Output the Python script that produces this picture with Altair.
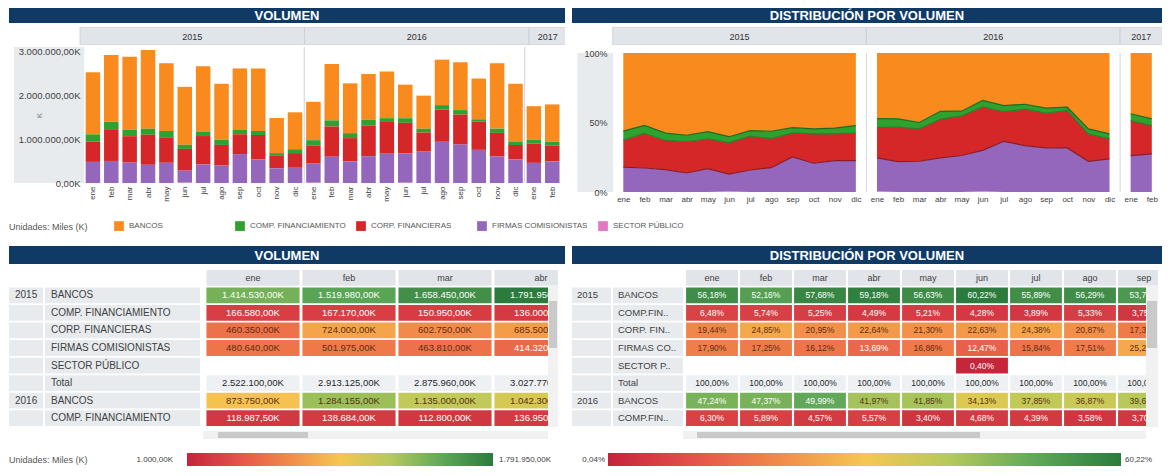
import altair as alt
import pandas as pd

# ------------------------------------------------------------------ data
months = ["ene", "feb", "mar", "abr", "may", "jun", "jul", "ago", "sep", "oct", "nov", "dic"]
year_list = ["2015", "2016", "2017"]
months_per_year = [12, 12, 2]
period_month = months + months + ["ene", "feb"]
period_year = ["2015"] * 12 + ["2016"] * 12 + ["2017"] * 2

categories = ["BANCOS", "COMP. FINANCIAMIENTO", "CORP. FINANCIERAS", "FIRMAS COMISIONISTAS", "SECTOR PÚBLICO"]
short_names = ["BANCOS", "COMP.FIN..", "CORP. FIN..", "FIRMAS CO..", "SECTOR P.."]
cat_colors = ["#F98A1D", "#2FA12F", "#D62728", "#9467BD", "#E377C2"]
edge_colors = ["#F98A1D", "#1D6B1D", "#2A7F2A", "#8A1C24", "#E377C2"]
stack_rank = [4, 3, 2, 1, 0]

# volumen (miles, K) por mes: 2015 ene..dic, 2016 ene..dic, 2017 ene..feb
vol_bancos = [1414530, 1519980, 1658450, 1791950, 1546000, 1319910, 1486670, 1272150, 1401570, 1425060, 799200, 840420,
              873750, 1284155, 1135000, 1042300, 1062990, 764510, 753220, 1036050, 1089000, 928200, 1490580, 1315320,
              764750, 848460]
vol_comp = [166580, 167170, 150950, 136000, 142230, 93730, 103470, 120460, 97880, 93960, 62160, 88550,
            118987.5, 138684, 112800, 136950, 86360, 104830, 87360, 100600, 101750, 54740, 98280, 81360,
            85750, 85920]
vol_corp = [460350, 724000, 602750, 685500, 581490, 495600, 648510, 471660, 451530, 550710, 284160, 317170,
            405060, 690000, 528900, 692750, 723900, 698880, 423870, 734820, 684750, 642600, 537810, 325440,
            441000, 365160]
vol_firmas = [480640, 501975, 463810, 414320, 460280, 272000, 421350, 395730, 659030, 540270, 334480, 363860,
              445140, 597000, 493300, 611000, 666750, 665060, 725550, 938540, 874500, 754460, 603330, 537880,
              458500, 490460]
vol_sector = [0, 0, 0, 0, 0, 8760, 0, 0, 0, 0, 0, 0,
              6660, 1000, 0, 0, 0, 6720, 0, 0, 0, 0, 0, 0,
              0, 0]

# distribución (%) por mes
share_bancos = [56.18, 52.16, 57.68, 59.18, 56.63, 60.22, 55.89, 56.29, 53.70, 54.60, 54.00, 52.20,
                47.24, 47.37, 49.99, 41.97, 41.85, 34.13, 37.85, 36.87, 39.60, 39.00, 54.60, 58.20,
                43.70, 47.40]
share_comp = [6.48, 5.74, 5.25, 4.49, 5.21, 4.28, 3.89, 5.33, 3.75, 3.60, 4.20, 5.50,
              6.30, 5.89, 4.57, 5.57, 3.40, 4.68, 4.39, 3.58, 3.70, 2.30, 3.60, 3.60,
              4.90, 4.80]
share_corp = [19.44, 24.85, 20.95, 22.64, 21.30, 22.63, 24.38, 20.87, 17.30, 21.10, 19.20, 19.70,
              21.90, 24.86, 23.30, 27.90, 28.50, 31.20, 21.30, 26.15, 24.90, 27.00, 19.70, 14.40,
              25.20, 20.40]
share_firmas = [17.90, 17.25, 16.12, 13.69, 16.86, 12.47, 15.84, 17.51, 25.25, 20.70, 22.60, 22.60,
                24.20, 21.84, 22.14, 24.56, 26.25, 29.69, 36.46, 33.40, 31.80, 31.70, 22.10, 23.80,
                26.20, 27.40]
share_sector = [0, 0, 0, 0, 0, 0.40, 0, 0, 0, 0, 0, 0,
                0.36, 0.04, 0, 0, 0, 0.30, 0, 0, 0, 0, 0, 0,
                0, 0]

heat_colors = ["#C4243B", "#E5524C", "#F28A4A", "#F5C752", "#B5C95C", "#5FA859", "#2B7B3D"]

# ------------------------------------------------------------------ style
FONT = "Liberation Sans"
NAVY = "#0F3A66"
AXIS_BG = "#E8EBEE"
HDR_GRAY = "#E1E4E8"
TXT = "#404040"

vol_series = dict(zip(categories, [vol_bancos, vol_comp, vol_corp, vol_firmas, vol_sector]))
share_series = dict(zip(categories, [share_bancos, share_comp, share_corp, share_firmas, share_sector]))
rank_of = dict(zip(categories, stack_rank))
year_start = {}
_s = 0
for _y, _n in zip(year_list, months_per_year):
    year_start[_y] = _s
    _s += _n
month_expr = "[" + ",".join("'%s'" % m for m in period_month) + "][floor(datum.value)]"


def one():
    return pd.DataFrame({"k": [0]})


def header(title, w, h):
    bg = alt.Chart(one()).mark_rect(color=NAVY).encode(
        x=alt.value(0), x2=alt.value(w), y=alt.value(0), y2=alt.value(h))
    tx = alt.Chart(pd.DataFrame({"t": [title]})).mark_text(
        color="white", fontWeight="bold", fontSize=13, baseline="middle", align="center").encode(
        x=alt.value(w / 2), y=alt.value(h / 2 + 0.5), text="t:N")
    return alt.layer(bg, tx).properties(width=w, height=h)


def vstack(charts, gaps):
    out = charts[0]
    for c, g in zip(charts[1:], gaps):
        out = alt.vconcat(out, c, spacing=g).resolve_scale(color="independent")
    return out


yr_rows = []
for y, n in zip(year_list, months_per_year):
    s = year_start[y]
    yr_rows.append({"year": y, "s": s, "e": s + n, "mid": s + n / 2.0,
                    "a0": s - 0.5, "a1": s + n - 0.5, "amid": s + (n - 1) / 2.0})
yr_df = pd.DataFrame(yr_rows)

# ------------------------------------------------------------------ bar chart (VOLUMEN)
BAR_W, BAR_H = 556, 136
bar_step = 18.71
bar_dom = [-(80 - 9) / bar_step, (565 - 80) / bar_step]
bx = alt.Scale(domain=bar_dom, nice=False, zero=False)
bar_xaxis = alt.Axis(values=[i + 0.5 for i in range(26)], labelExpr=month_expr, labelAngle=270,
                     labelFontSize=8, labelColor=TXT, domain=False, ticks=False, grid=False,
                     labelPadding=3, labelOverlap=False, title=None)

bar_rows = []
for i in range(26):
    for c in categories:
        bar_rows.append({"xc": i + 0.5, "cat": c, "v": vol_series[c][i], "rank": rank_of[c]})
bar_df = pd.DataFrame(bar_rows)

bar_bg = alt.Chart(pd.DataFrame({"a": [bar_dom[0]], "b": [0.03]})).mark_rect(color=AXIS_BG).encode(
    x=alt.X("a:Q", scale=bx, axis=bar_xaxis), x2="b:Q", y=alt.value(0), y2=alt.value(BAR_H))
bar_rules = alt.Chart(yr_df[yr_df["s"] > 0]).mark_rule(color="#CDD1D6", strokeWidth=1).encode(
    x=alt.X("s:Q", scale=bx, axis=bar_xaxis))
bars = alt.Chart(bar_df).mark_bar(width=14.5).encode(
    x=alt.X("xc:Q", scale=bx, axis=bar_xaxis),
    y=alt.Y("v:Q", stack="zero", scale=alt.Scale(domain=[0, 3098000], nice=False),
            axis=alt.Axis(values=[0, 1000000, 2000000, 3000000], format=",.2f", labelExpr="datum.label + 'K'",
                          offset=-73, domain=False, ticks=False, grid=False, labelFontSize=9.5,
                          labelColor=TXT, labelPadding=2, title="K", titleX=-39, titleFontSize=8,
                          titleFontWeight="normal", titleColor="#777777", zindex=2)),
    color=alt.Color("cat:N", scale=alt.Scale(domain=categories, range=cat_colors), legend=None),
    order=alt.Order("rank:Q", sort="ascending"),
)
bar_chart = alt.layer(bar_bg, bar_rules, bars).properties(width=BAR_W, height=BAR_H)

bar_year = alt.layer(
    alt.Chart(yr_df).mark_rect(color=HDR_GRAY, stroke="#C9CDD2", strokeWidth=0.8, clip=True).encode(
        x=alt.X("s:Q", scale=bx, axis=None), x2="e:Q", y=alt.value(0), y2=alt.value(18)),
    alt.Chart(yr_df).mark_text(fontSize=9, color="#333333").encode(
        x=alt.X("mid:Q", scale=bx, axis=None), y=alt.value(9.5), text="year:N"),
).properties(width=BAR_W, height=18)

# ------------------------------------------------------------------ area chart (DISTRIBUCIÓN)
AREA_W, AREA_H = 590, 139
area_step = 21.14
area_dom = [(572 - 623.3) / area_step, (1162 - 623.3) / area_step]
ax = alt.Scale(domain=area_dom, nice=False, zero=False)
area_xaxis = alt.Axis(values=list(range(26)), labelExpr=month_expr, labelAngle=0, labelFontSize=8,
                      labelColor=TXT, domain=False, ticks=False, grid=False, labelPadding=3,
                      labelOverlap=False, title=None)
ay = alt.Scale(domain=[0, 1], nice=False)
area_yaxis = alt.Axis(values=[0, 0.5, 1], format=".0%", offset=-37, domain=False, ticks=False, grid=False,
                      labelFontSize=9, labelColor=TXT, labelPadding=2, title=None, zindex=2)

area_rows = []
for i in range(26):
    for c in categories:
        area_rows.append({"idx": i, "year": period_year[i], "cat": c, "s": share_series[c][i],
                          "rank": rank_of[c]})
area_df = pd.DataFrame(area_rows)

stacked = alt.Chart(area_df).transform_stack(
    stack="s", groupby=["idx"], as_=["y0", "y1"], offset="normalize",
    sort=[alt.SortField("rank", order="ascending")])

area_bg = alt.Chart(pd.DataFrame({"a": [area_dom[0] + 0.25], "b": [-0.487]})).mark_rect(color=AXIS_BG).encode(
    x=alt.X("a:Q", scale=ax, axis=area_xaxis), x2="b:Q", y=alt.value(0), y2=alt.value(AREA_H))
area_rules = alt.Chart(yr_df[yr_df["s"] > 0]).mark_rule(color="#D3D7DC", strokeWidth=1).encode(
    x=alt.X("a0:Q", scale=ax, axis=area_xaxis))
areas = stacked.mark_area().encode(
    x=alt.X("idx:Q", scale=ax, axis=area_xaxis),
    y=alt.Y("y0:Q", scale=ay, axis=area_yaxis), y2="y1:Q",
    color=alt.Color("cat:N", scale=alt.Scale(domain=categories, range=cat_colors), legend=None),
    detail="year:N")
edges = stacked.transform_filter("datum.rank >= 1 && datum.rank <= 3").mark_line(strokeWidth=1.2).encode(
    x=alt.X("idx:Q", scale=ax, axis=area_xaxis),
    y=alt.Y("y1:Q", scale=ay, axis=area_yaxis),
    stroke=alt.Stroke("cat:N", scale=alt.Scale(domain=categories, range=edge_colors), legend=None),
    detail="year:N")
area_chart = alt.layer(area_bg, area_rules, areas, edges).properties(width=AREA_W, height=AREA_H)

area_year = alt.layer(
    alt.Chart(yr_df).mark_rect(color=HDR_GRAY, stroke="#C9CDD2", strokeWidth=0.8, clip=True).encode(
        x=alt.X("a0:Q", scale=ax, axis=None), x2="a1:Q", y=alt.value(0), y2=alt.value(18)),
    alt.Chart(yr_df).mark_text(fontSize=9, color="#333333").encode(
        x=alt.X("amid:Q", scale=ax, axis=None), y=alt.value(9.5), text="year:N"),
).properties(width=AREA_W, height=18)

# ------------------------------------------------------------------ category legend row
legend_row = alt.layer(
    alt.Chart(pd.DataFrame({"cat": categories})).mark_square(opacity=0, size=1).encode(
        color=alt.Color("cat:N", scale=alt.Scale(domain=categories, range=cat_colors),
                        legend=alt.Legend(orient="none", legendX=105, legendY=0, direction="horizontal",
                                          columns=5, title=None, symbolType="square", symbolSize=95,
                                          symbolStrokeWidth=0, symbolOpacity=1, labelFontSize=8,
                                          labelColor="#555555", columnPadding=10, gridAlign="all",
                                          padding=0, labelOffset=5, labelLimit=200))),
    alt.Chart(pd.DataFrame({"t": ["Unidades: Miles (K)"]})).mark_text(
        align="left", baseline="middle", fontSize=9, color="#555555").encode(
        x=alt.value(0), y=alt.value(6), text="t:N"),
).properties(width=1153, height=12)

# ------------------------------------------------------------------ tables
row_years = ["2015"] * 6 + ["2016"] * 2
row_cats = categories + ["Total"] + categories[:2]
row_keys = ["hdr"] + ["%s|%s" % (y, c) for y, c in zip(row_years, row_cats)]


def fmt_k(v):
    s = "{:,.2f}".format(v)
    return s.replace(",", "#").replace(".", ",").replace("#", ".") + "K"


def fmt_p(v):
    return "{:.2f}".format(v).replace(".", ",") + "%"


def table_chart(series, fmt, w, h, left_px, step_px, half, yr_bg, cat_bg, yr_tx, cat_tx, names,
                lab_fs, cell_fs, sb):
    vals = [v for c in categories for v in series[c] if v > 0]
    lo, hi = min(vals), max(vals)
    stops = [lo + k * (hi - lo) / 6.0 for k in range(7)]
    dom = [-0.5 - left_px / step_px, -0.5 + (w - left_px) / step_px]
    last_col = int(dom[1] + 0.5)
    xs = alt.Scale(domain=dom, nice=False, zero=False)
    ys = alt.Scale(domain=row_keys, paddingInner=0.1, paddingOuter=0.05)
    Y = alt.Y("row:N", scale=ys, axis=None)

    def X(f):
        return alt.X(f, scale=xs, axis=None)

    hdr_df = pd.DataFrame([{"row": "hdr", "col": m, "x0": m - half, "x1": m + half, "mon": months[m]}
                           for m in range(last_col + 1)])
    name_map = dict(zip(categories, names))
    cells, tots, labs = [], [], []
    prev = None
    for key, y, c in zip(row_keys[1:], row_years, row_cats):
        labs.append({"row": key, "ytxt": y if y != prev else "", "ctxt": name_map.get(c, c)})
        prev = y
        s0 = year_start[y]
        for m in range(min(months_per_year[year_list.index(y)], last_col + 1)):
            i = s0 + m
            if c == "Total":
                tot = sum(series[cc][i] for cc in categories)
                tots.append({"row": key, "col": m, "x0": m - half, "x1": m + half, "txt": fmt(tot)})
            else:
                v = series[c][i]
                if v <= 0:
                    continue
                t = (v - lo) / (hi - lo)
                tc = "#FFFFFF" if (t < 0.25 or t > 0.75) else "#5C2E14"
                cells.append({"row": key, "col": m, "x0": m - half, "x1": m + half, "v": v,
                              "txt": fmt(v), "tc": tc})
    cells_df, tots_df = pd.DataFrame(cells), pd.DataFrame(tots)
    labs_df = pd.DataFrame(labs)
    yr_df_t = labs_df[labs_df["ytxt"] != ""]

    layers = [
        alt.Chart(labs_df).mark_rect(color=AXIS_BG).encode(x=alt.value(yr_bg[0]), x2=alt.value(yr_bg[1]), y=Y),
        alt.Chart(labs_df).mark_rect(color=AXIS_BG).encode(x=alt.value(cat_bg[0]), x2=alt.value(cat_bg[1]), y=Y),
        alt.Chart(hdr_df).mark_rect(color=HDR_GRAY, clip=True).encode(x=X("x0:Q"), x2="x1:Q", y=Y),
        alt.Chart(hdr_df).mark_text(clip=True, fontSize=9, color=TXT).encode(x=X("col:Q"), y=Y, text="mon:N"),
        alt.Chart(cells_df).mark_rect(clip=True).encode(
            x=X("x0:Q"), x2="x1:Q", y=Y,
            color=alt.Color("v:Q", scale=alt.Scale(domain=stops, range=heat_colors), legend=None)),
        alt.Chart(tots_df).mark_rect(color="#EEF1F4", clip=True).encode(x=X("x0:Q"), x2="x1:Q", y=Y),
        alt.Chart(cells_df).mark_text(clip=True, fontSize=cell_fs).encode(
            x=X("col:Q"), y=Y, text="txt:N", color=alt.Color("tc:N", scale=None)),
        alt.Chart(tots_df).mark_text(clip=True, fontSize=cell_fs, color="#262626").encode(
            x=X("col:Q"), y=Y, text="txt:N"),
        alt.Chart(yr_df_t).mark_text(align="left", fontSize=lab_fs, color=TXT).encode(
            x=alt.value(yr_tx), y=Y, text="ytxt:N"),
        alt.Chart(labs_df).mark_text(align="left", fontSize=lab_fs, color=TXT).encode(
            x=alt.value(cat_tx), y=Y, text="ctxt:N"),
        alt.Chart(one()).mark_rect(color="#F1F1F1").encode(
            x=alt.value(sb[0]), x2=alt.value(sb[1]), y=alt.value(16), y2=alt.value(h)),
        alt.Chart(one()).mark_rect(color="#C9C9C9").encode(
            x=alt.value(sb[0] + 1), x2=alt.value(sb[1] - 1), y=alt.value(32), y2=alt.value(79)),
    ]
    chart = alt.layer(*layers).resolve_scale(color="independent").properties(width=w, height=h)
    return chart, lo, hi


def hscroll(w, h, t0, t1, th0, th1):
    return alt.layer(
        alt.Chart(one()).mark_rect(color="#F1F1F1").encode(
            x=alt.value(t0), x2=alt.value(t1), y=alt.value(0), y2=alt.value(h)),
        alt.Chart(one()).mark_rect(color="#C9C9C9").encode(
            x=alt.value(th0), x2=alt.value(th1), y=alt.value(1), y2=alt.value(h - 1)),
    ).properties(width=w, height=h)


def grad_legend(w, h, lo_txt, hi_txt, lo_right, g0, g1, hi_left, unit_txt=None):
    grad = {"gradient": "linear", "x1": 0, "x2": 1, "y1": 0, "y2": 0,
            "stops": [{"offset": k / 6.0, "color": c} for k, c in enumerate(heat_colors)]}
    layers = [
        alt.Chart(one()).mark_rect(fill=grad).encode(
            x=alt.value(g0), x2=alt.value(g1), y=alt.value(0), y2=alt.value(h)),
        alt.Chart(pd.DataFrame({"t": [lo_txt]})).mark_text(
            align="right", baseline="middle", fontSize=8, color=TXT).encode(
            x=alt.value(lo_right), y=alt.value(h / 2), text="t:N"),
        alt.Chart(pd.DataFrame({"t": [hi_txt]})).mark_text(
            align="left", baseline="middle", fontSize=8, color=TXT).encode(
            x=alt.value(hi_left), y=alt.value(h / 2), text="t:N"),
    ]
    if unit_txt:
        layers.append(alt.Chart(pd.DataFrame({"t": [unit_txt]})).mark_text(
            align="left", baseline="middle", fontSize=9, color="#555555").encode(
            x=alt.value(0), y=alt.value(h / 2), text="t:N"))
    return alt.layer(*layers).properties(width=w, height=h)


vol_table, vlo, vhi = table_chart(vol_series, fmt_k, 549, 158, 196, 96, 0.485, (0, 34), (36, 191), 6, 42,
                                  categories, 10, 9.5, (539, 549))
pct_table, plo, phi = table_chart(share_series, fmt_p, 586, 158, 113, 54, 0.48, (0, 39), (41, 111), 5, 46,
                                  short_names, 9.5, 8.5, (574, 586))

vol_legend = grad_legend(556, 13, fmt_k(vlo), fmt_k(vhi), 164, 178, 484, 490, "Unidades: Miles (K)")
pct_legend = grad_legend(590, 13, fmt_p(plo), fmt_p(phi), 33, 36, 549, 553)

# ------------------------------------------------------------------ layout
left_top = vstack([header("VOLUMEN", 556, 15), bar_year, bar_chart], [4, 1])
right_top = vstack([header("DISTRIBUCIÓN POR VOLUMEN", 590, 15), area_year, area_chart], [4, 4])
left_bot = vstack([header("VOLUMEN", 556, 18), vol_table, hscroll(556, 8, 194, 539, 209, 299), vol_legend],
                  [5, 4, 14])
right_bot = vstack([header("DISTRIBUCIÓN  POR VOLUMEN", 590, 18), pct_table, hscroll(590, 8, 111, 574, 125, 408),
                    pct_legend], [5, 4, 14])

top_row = alt.hconcat(left_top, right_top, spacing=7).resolve_scale(color="independent")
bottom_row = alt.hconcat(left_bot, right_bot, spacing=7).resolve_scale(color="independent")
upper = alt.vconcat(top_row, legend_row, spacing=18).resolve_scale(color="independent")

chart = alt.vconcat(upper, bottom_row, spacing=13).resolve_scale(
    color="independent").properties(
    padding={"left": 1, "top": 0, "right": 0, "bottom": 0}
).configure(
    font=FONT,
    locale={"number": {"decimal": ",", "thousands": ".", "grouping": [3], "currency": ["", ""]}},
).configure_view(stroke=None)

chart.save("out.html", embed_options={"renderer": "svg", "actions": False})
